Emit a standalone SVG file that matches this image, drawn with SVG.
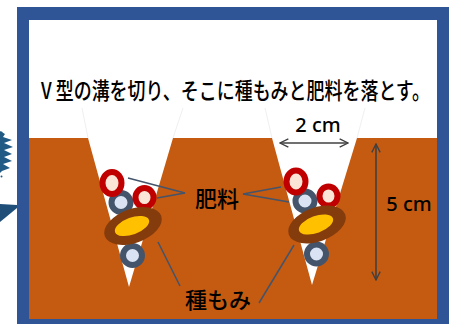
<svg xmlns="http://www.w3.org/2000/svg" width="457" height="324" viewBox="0 0 457 324">
  <style>
    .jp { font-family: "Noto Sans CJK JP", "Noto Sans", sans-serif; fill: #000; }
    .dim { font-family: "Noto Sans", "Noto Sans CJK JP", sans-serif; fill: #000; }
    .leader { stroke: #44546a; stroke-width: 1.5; fill: none; }
    .measure { stroke: #404040; stroke-width: 1.6; fill: none; }
    .ghost { stroke: #f0f0f0; stroke-width: 1; fill: none; }
    .ring-red { fill: #fbe5d6; stroke: #c00000; stroke-width: 6; }
    .ring-gray { fill: #dae3f3; stroke: #44546a; stroke-width: 6; }
    .seed-hull { fill: #843c0c; }
    .seed-core { fill: #ffc000; }
  </style>
  <defs>
    <marker id="chev" viewBox="0 0 12 12" refX="11" refY="6" markerWidth="10" markerHeight="10" markerUnits="userSpaceOnUse" orient="auto-start-reverse">
      <path d="M1,1 L11,6 L1,11" fill="none" stroke="#404040" stroke-width="1.6"/>
    </marker>
    <!-- seeds and fertiliser pellets lying in one furrow -->
    <g id="furrow-fill">
      <ellipse class="ring-gray" cx="0" cy="0" rx="9.5" ry="9.5"/>
      <ellipse class="ring-gray" cx="11.5" cy="53" rx="9.5" ry="9.5"/>
      <ellipse class="ring-red" cx="-9" cy="-19.5" rx="9.5" ry="11"/>
      <ellipse class="ring-red" cx="23.5" cy="-5" rx="9" ry="9.5"/>
      <ellipse class="seed-hull" cx="12" cy="23.5" rx="30" ry="17" transform="rotate(-20 12 23.5)"/>
      <ellipse class="seed-core" cx="11" cy="23.5" rx="18" ry="8.5" transform="rotate(-20 11 23.5)"/>
    </g>
  </defs>

  <!-- white page -->
  <rect x="0" y="0" width="457" height="324" fill="#ffffff"/>

  <!-- pieces of neighbouring shapes at the left edge -->
  <g id="burst">
    <polygon fill="#215a84" points="0,131 5,134 3,137 12,140 4,143 13,147 4,150 12,154 4,157 12,161 3,164 10,168 2,171 0,173"/>
    <circle cx="1.5" cy="132.5" r="1" fill="#215a84"/>
    <circle cx="1.5" cy="176.5" r="1" fill="#215a84"/>
  </g>
  <g id="pointer">
    <polygon fill="#1f4e79" points="0,204 17,205 17,208 0,222"/>
  </g>

  <!-- frame -->
  <g id="frame">
    <rect x="17" y="7" width="432" height="330" fill="#2f5597"/>
    <rect x="29" y="20" width="408" height="299" fill="#ffffff"/>
  </g>

  <!-- soil with two V furrows -->
  <g id="soil">
    <path fill="#c55a11" d="M29,138 H88 L129,287 L173,138 H272 L312,285 L357,138 H437 V319 H29 Z"/>
    <path class="ghost" d="M88,138 L82,108 M173,138 L183,108 M272,138 L265,108 M357,138 L365,108"/>
  </g>

  <!-- title -->
  <g id="title">
    <text class="jp" x="41" y="99" font-size="23" font-weight="500" textLength="389" lengthAdjust="spacingAndGlyphs">V 型の溝を切り、そこに種もみと肥料を落とす。</text>
  </g>

  <!-- furrow contents -->
  <g id="furrow-left">
    <use href="#furrow-fill" x="121" y="202.5"/>
  </g>
  <g id="furrow-right">
    <use href="#furrow-fill" x="305" y="201"/>
  </g>

  <!-- connectors -->
  <g id="connectors">
    <path class="leader" d="M128,178 L185,193 L157,198"/>
    <path class="leader" d="M281,187 L243,194 L289,202"/>
    <path class="leader" d="M158,242 L180,286"/>
    <path class="leader" d="M294,245 L259,303"/>
    <line class="measure" x1="280" y1="143" x2="348" y2="143" marker-start="url(#chev)" marker-end="url(#chev)"/>
    <line class="measure" x1="376" y1="144" x2="376" y2="280" marker-start="url(#chev)" marker-end="url(#chev)"/>
  </g>

  <!-- labels -->
  <g id="label-fertiliser">
    <text class="jp" x="217" y="207" font-size="22" font-weight="500" text-anchor="middle">肥料</text>
  </g>
  <g id="label-seed">
    <text class="jp" x="218" y="308" font-size="22" font-weight="500" text-anchor="middle">種もみ</text>
  </g>
  <g id="label-width">
    <text class="dim" x="318" y="132" font-size="20" font-weight="500" text-anchor="middle">2 cm</text>
  </g>
  <g id="label-depth">
    <text class="dim" x="409" y="211" font-size="20" font-weight="500" text-anchor="middle">5 cm</text>
  </g>
</svg>
